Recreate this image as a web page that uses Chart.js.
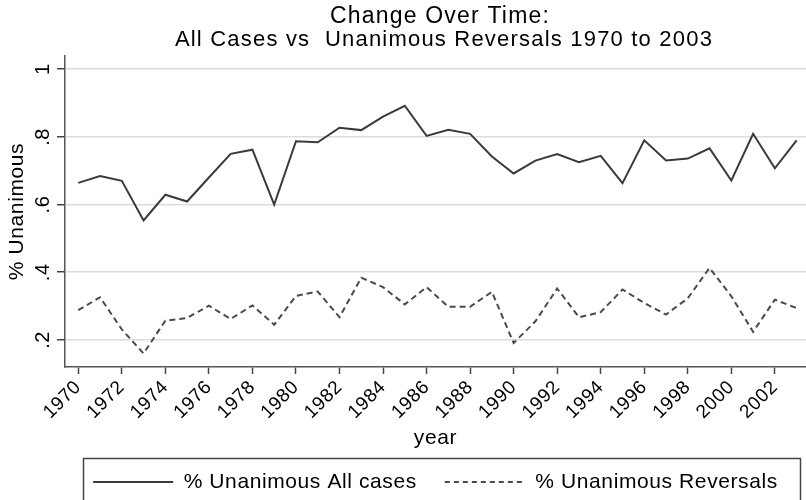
<!DOCTYPE html>
<html><head><meta charset="utf-8">
<script src="https://cdn.jsdelivr.net/npm/chart.js@4"></script>
<style>html,body{margin:0;padding:0;background:#fff;overflow:hidden}</style>
</head><body>
<div style="width:806px;height:500px;position:relative"><canvas id="c" width="806" height="500"></canvas></div>
<script>
const years = [1970,1971,1972,1973,1974,1975,1976,1977,1978,1979,1980,1981,1982,1983,1984,1985,1986,1987,1988,1989,1990,1991,1992,1993,1994,1995,1996,1997,1998,1999,2000,2001,2002,2003];
const allCases = [0.664,0.684,0.670,0.553,0.629,0.609,0.680,0.750,0.762,0.600,0.787,0.784,0.827,0.820,0.860,0.892,0.803,0.821,0.809,0.742,0.692,0.730,0.749,0.725,0.744,0.663,0.790,0.730,0.736,0.766,0.671,0.809,0.707,0.790];
const reversals = [0.288,0.326,0.231,0.160,0.257,0.265,0.301,0.262,0.302,0.245,0.330,0.343,0.267,0.384,0.356,0.305,0.356,0.298,0.298,0.342,0.191,0.255,0.352,0.267,0.282,0.349,0.309,0.275,0.323,0.413,0.329,0.224,0.319,0.294];
const yTicks = [0.2,0.4,0.6,0.8,1];
const yTickLabels = ['.2','.4','.6','.8','1'];
const xTicks = [1970,1972,1974,1976,1978,1980,1982,1984,1986,1988,1990,1992,1994,1996,1998,2000,2002];
const seriesNames = ['% Unanimous All cases','% Unanimous Reversals'];
const titleLines = ['Change Over Time:','All Cases vs  Unanimous Reversals 1970 to 2003'];
const yTitle = '% Unanimous';
const xTitle = 'year';

const FONT = "'Liberation Sans', Arial, Helvetica, sans-serif";
const spacingPlugin = {
  id: 'spacing',
  beforeUpdate(chart){ chart.ctx.letterSpacing = '0.6px'; },
  beforeDraw(chart){ chart.ctx.letterSpacing = '0.6px'; }
};
const titlePlugin = {
  id: 'ttl',
  afterDraw(chart){
    const ctx = chart.ctx; ctx.save();
    ctx.letterSpacing = '1.2px';
    ctx.fillStyle = '#000';
    ctx.textAlign = 'center'; ctx.textBaseline = 'middle';
    ctx.font = '23px ' + FONT;
    ctx.fillText(titleLines[0], 440, 17);
    ctx.font = '22px ' + FONT;
    ctx.fillText(titleLines[1], 444, 40);
    ctx.restore();
  }
};
const legendBox = {
  id: 'lbox',
  afterDraw(chart){
    const ctx = chart.ctx; ctx.save();
    ctx.strokeStyle = '#444'; ctx.lineWidth = 1.5;
    ctx.strokeRect(83.5, 458.5, 717, 60);
    ctx.restore();
  }
};

new Chart(document.getElementById('c'), {
  type: 'line',
  data: {
    datasets: [
      { label: seriesNames[0], data: years.map((y,i)=>({x:y, y:allCases[i]})),
        borderColor: '#3a3a3a', backgroundColor: 'rgba(0,0,0,0)', borderWidth: 2, pointRadius: 0, tension: 0, fill: false },
      { label: seriesNames[1], data: years.map((y,i)=>({x:y, y:reversals[i]})),
        borderColor: '#4a4a4a', backgroundColor: 'rgba(0,0,0,0)', borderWidth: 2, borderDash: [6,4], pointRadius: 0, tension: 0, fill: false }
    ]
  },
  options: {
    responsive: false, animation: false,
    layout: { padding: { top: 56, bottom: -2.5, left: 0, right: 0 } },
    plugins: {
      tooltip: { enabled: false },
      title: { display: false },
      legend: {
        position: 'bottom', fullSize: false,
        labels: { font: { size: 21, family: FONT }, color: '#000', usePointStyle: true, pointStyle: 'line',
          pointStyleWidth: 80, padding: 28,
          generateLabels(chart){
            const items = Chart.defaults.plugins.legend.labels.generateLabels(chart);
            items.forEach((it, i) => {
              const ds = chart.data.datasets[i];
              it.lineDash = ds.borderDash ? [5,4] : [];
              it.lineWidth = 2;
              it.strokeStyle = ds.borderColor;
              it.pointStyle = 'line';
            });
            return items;
          }
        }
      }
    },
    scales: {
      x: {
        type: 'linear', min: 1969.39, max: 2003.43,
        afterBuildTicks(s){ s.ticks = xTicks.map(v=>({value:v})); },
        afterFit(s){ s.height = 76.5; },
        ticks: { autoSkip: false, minRotation: 45, maxRotation: 45, padding: 2, color: '#000',
          font: { size: 19, family: FONT }, callback: v => String(v) },
        grid: { drawOnChartArea: false, tickLength: 7, tickColor: '#444', tickWidth: 1.5 },
        border: { color: '#555', width: 1.5 },
        title: { display: true, text: xTitle, color: '#000', font: { size: 21, family: FONT }, padding: { top: 0, bottom: -7 } }
      },
      y: {
        type: 'linear', min: 0.12, max: 1.039,
        afterBuildTicks(s){ s.ticks = yTicks.map(v=>({value:v})); },
        afterFit(s){ s.width = 65; },
        ticks: { minRotation: 90, maxRotation: 90, crossAlign: 'center', padding: 5, color: '#000',
          font: { size: 20, family: FONT }, callback: (v) => yTickLabels[yTicks.indexOf(v)] ?? '' },
        grid: { color: '#dcdcdc', lineWidth: 1.5, tickLength: 8, tickColor: '#444', tickWidth: 1.5 },
        border: { color: '#555', width: 1.5 },
        title: { display: true, text: yTitle, color: '#000', font: { size: 21, family: FONT }, padding: { top: 5, bottom: 0 } }
      }
    }
  },
  plugins: [spacingPlugin, titlePlugin, legendBox]
});
</script>
</body></html>
